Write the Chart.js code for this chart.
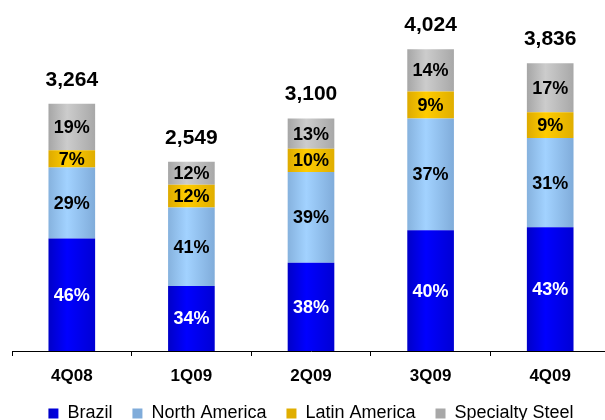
<!DOCTYPE html>
<html>
<head>
<meta charset="utf-8">
<script src="https://cdn.jsdelivr.net/npm/chart.js@4.4.1/dist/chart.umd.min.js"></script>
<style>
  html, body { margin: 0; padding: 0; background: #ffffff; overflow: hidden; }
  #wrap { width: 610px; height: 420px; }
</style>
</head>
<body>
<div id="wrap"><canvas id="c" width="610" height="420"></canvas></div>
<script>
// ---- data ----
const categories = ['4Q08', '1Q09', '2Q09', '3Q09', '4Q09'];
const totals = [3264, 2549, 3100, 4024, 3836];
const brazilPct = [46, 34, 38, 40, 43];
const northAmericaPct = [29, 41, 39, 37, 31];
const latinAmericaPct = [7, 12, 10, 9, 9];
const specialtyPct = [19, 12, 13, 14, 17];
const seriesNames = ['Brazil', 'North America', 'Latin America', 'Specialty Steel'];
const totalLabels = ['3,264', '2,549', '3,100', '4,024', '3,836'];

// ---- styles ----
const FONT = "'Liberation Sans', Arial, Helvetica, sans-serif";
const palettes = [
  { solid: '#0000FF', edge: '#0000C8', mid: '#0000FF', edge2: '#0000D4', text: '#FFFFFF' },
  { solid: '#99CCFF', edge: '#86B2DE', mid: '#A2D2FF', edge2: '#80ACDA', text: '#000000' },
  { solid: '#F2C200', edge: '#DDAA00', mid: '#FFCC00', edge2: '#E0AE00', text: '#000000' },
  { solid: '#B8B8B8', edge: '#A6A6A6', mid: '#CCCCCC', edge2: '#A8A8A8', text: '#000000' }
];
const BAR_PCT = 0.39;

function gradientFill(idx) {
  const p = palettes[idx];
  return function (c) {
    if (c.type !== 'data') return p.solid;
    const ch = c.chart;
    const xs = ch.scales && ch.scales.x;
    if (!xs || !isFinite(xs.width) || xs.width <= 0) return p.solid;
    const cx = xs.getPixelForValue(c.dataIndex);
    const w = xs.width / categories.length * BAR_PCT;
    const g = ch.ctx.createLinearGradient(cx - w / 2, 0, cx + w / 2, 0);
    g.addColorStop(0, p.edge);
    g.addColorStop(0.4, p.mid);
    g.addColorStop(1, p.edge2);
    return g;
  };
}

const pctSeries = [brazilPct, northAmericaPct, latinAmericaPct, specialtyPct];
const datasets = pctSeries.map((pcts, i) => ({
  label: seriesNames[i],
  data: pcts.map((p, j) => totals[j] * p / 100),
  pcts: pcts,
  backgroundColor: gradientFill(i),
  borderWidth: 0,
  categoryPercentage: 1.0,
  barPercentage: BAR_PCT
}));

const labelPlugin = {
  id: 'barLabels',
  afterDatasetsDraw(chart) {
    const ctx = chart.ctx;
    ctx.save();
    ctx.textAlign = 'center';
    ctx.textBaseline = 'middle';
    chart.data.datasets.forEach((ds, i) => {
      const meta = chart.getDatasetMeta(i);
      ctx.font = 'bold 18px ' + FONT;
      ctx.fillStyle = palettes[i].text;
      meta.data.forEach((el, j) => {
        const y = (el.y + el.base) / 2;
        ctx.fillText(ds.pcts[j] + '%', el.x, y + 1);
      });
    });
    const last = chart.getDatasetMeta(chart.data.datasets.length - 1);
    ctx.font = 'bold 21px ' + FONT;
    ctx.fillStyle = '#000000';
    last.data.forEach((el, j) => {
      ctx.fillText(totalLabels[j], el.x, el.y - 24);
    });
    ctx.restore();
  }
};

new Chart(document.getElementById('c'), {
  type: 'bar',
  data: { labels: categories, datasets: datasets },
  options: {
    responsive: false,
    animation: false,
    devicePixelRatio: 1,
    layout: { padding: { top: 6, left: 12, right: 0, bottom: 0 } },
    plugins: {
      legend: {
        position: 'bottom',
        maxHeight: 35.5,
        labels: {
          boxWidth: 10,
          boxHeight: 10,
          padding: 20,
          color: '#000000',
          font: { family: FONT, size: 18, weight: 'normal' }
        }
      },
      tooltip: { enabled: false },
      title: { display: false }
    },
    scales: {
      x: {
        stacked: true,
        offset: true,
        border: { display: true, color: '#000000', width: 1 },
        grid: { display: true, offset: true, drawOnChartArea: false, drawTicks: true, tickLength: 5, color: '#000000' },
        ticks: { color: '#000000', padding: 10, font: { family: FONT, size: 17, weight: 'bold' } },
        afterFit(scale) { scale.height = 33.5; }
      },
      y: {
        stacked: true,
        display: false,
        min: 0,
        max: 4600
      }
    }
  },
  plugins: [labelPlugin]
});
</script>
</body>
</html>
